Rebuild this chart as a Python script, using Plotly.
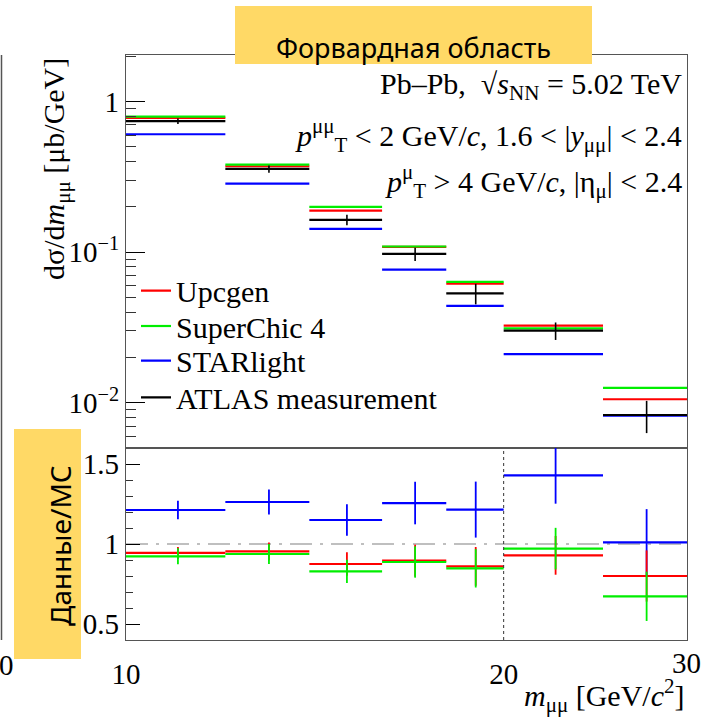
import math
import plotly.graph_objects as go

# ---------------- data ----------------
edges = [10, 12, 14, 16, 18, 20, 24, 28]

atlas = [0.741, 0.357, 0.164, 0.0973, 0.0533, 0.0301, 0.00828]
atlas_err = [0.031, 0.020, 0.013, 0.0098, 0.0083, 0.0040, 0.0020]

upcgen = [0.779, 0.372, 0.1888, 0.1083, 0.0618, 0.0325, 0.01054]
superchic = [0.795, 0.381, 0.1997, 0.1090, 0.0634, 0.0312, 0.01253]
starlight = [0.607, 0.285, 0.1426, 0.0766, 0.0439, 0.0210, 0.0082]

ratio_upcgen = [0.944, 0.954, 0.875, 0.896, 0.860, 0.929, 0.800]
ratio_upcgen_err = [0.037, 0.056, 0.073, 0.100, 0.121, 0.121, 0.160]
ratio_superchic = [0.923, 0.9375, 0.829, 0.8875, 0.848, 0.971, 0.673]
ratio_superchic_err = [0.050, 0.0625, 0.073, 0.098, 0.120, 0.130, 0.154]
ratio_starlight = [1.2125, 1.2625, 1.150, 1.256, 1.215, 1.429, 1.010]
ratio_starlight_err = [0.058, 0.078, 0.098, 0.133, 0.175, 0.177, 0.208]

names = ["Upcgen", "SuperChic 4", "STARlight", "ATLAS measurement"]
colors = ["#ff0000", "#00ee00", "#0000ff", "#000000"]

SERIF = "Liberation Serif"
SANS = "Noto Sans"
W = H = 718


def px(v):
    return v / W


def py(v):
    return 1 - v / H


def steps(vals):
    xs, ys = [], []
    for i, v in enumerate(vals):
        xs += [edges[i], edges[i + 1], None]
        ys += [v, v, None]
    return xs, ys


centers = [(edges[i] + edges[i + 1]) / 2 for i in range(len(edges) - 1)]

fig = go.Figure()

# ---------------- top panel ----------------
legends = ["legend", "legend2", "legend3", "legend4"]
for vals, name, col, lg in zip([upcgen, superchic, starlight, atlas], names, colors, legends):
    xs, ys = steps(vals)
    fig.add_trace(go.Scatter(x=xs, y=ys, mode="lines", name=name, legend=lg,
                             line=dict(color=col, width=2.2), xaxis="x", yaxis="y",
                             hoverinfo="skip"))
fig.add_trace(go.Scatter(x=centers, y=atlas, mode="markers", showlegend=False,
                         marker=dict(size=2, color="black", opacity=0),
                         error_y=dict(type="data", array=atlas_err, width=0,
                                      thickness=1.6, color="black"),
                         xaxis="x", yaxis="y"))

# ---------------- ratio panel ----------------
for vals, err, col in [(ratio_starlight, ratio_starlight_err, colors[2]),
                       (ratio_upcgen, ratio_upcgen_err, colors[0]),
                       (ratio_superchic, ratio_superchic_err, colors[1])]:
    xs, ys = steps(vals)
    fig.add_trace(go.Scatter(x=xs, y=ys, mode="lines", showlegend=False,
                             line=dict(color=col, width=2.2), xaxis="x2", yaxis="y2"))
    fig.add_trace(go.Scatter(x=centers, y=vals, mode="markers", showlegend=False,
                             marker=dict(size=2, color=col, opacity=0),
                             error_y=dict(type="data", array=err, width=0,
                                          thickness=1.8, color=col),
                             xaxis="x2", yaxis="y2"))

frame = dict(showline=True, linecolor="#555555", linewidth=1.3, mirror=True,
             showgrid=False, zeroline=False, automargin=False)
xdom = [px(126), px(687)]
xr = [math.log10(edges[0]), math.log10(edges[-1])]

top_minor = [m * 10 ** d for d in (-3, -2, -1, 0) for m in range(2, 10)
             if 0.005 <= m * 10 ** d <= 2.04]

fig.update_layout(
    width=W, height=H, margin=dict(l=0, r=0, t=0, b=0, autoexpand=False),
    paper_bgcolor="white", plot_bgcolor="white",
    xaxis=dict(type="log", range=xr, domain=xdom, anchor="y", showticklabels=False,
               ticks="", **frame),
    yaxis=dict(type="log", range=[math.log10(0.005), math.log10(2.04)],
               domain=[py(448), py(55)], anchor="x",
               tickvals=[0.01, 0.1, 1], ticktext=["10<sup>−2</sup>", "10<sup>−1</sup>", "1"],
               ticks="inside", ticklen=19, tickwidth=1.3, tickcolor="black",
               minor=dict(tickvals=top_minor, ticks="inside", ticklen=10,
                          tickwidth=1.2, tickcolor="#333333"),
               tickfont=dict(family=SERIF, size=29, color="black"), **frame),
    xaxis2=dict(type="log", range=xr, domain=xdom, anchor="y2",
                tickvals=[10, 20], ticktext=["10", "20"], ticks="",
                ticklabelstandoff=8,
                tickfont=dict(family=SERIF, size=29, color="black"), **frame),
    yaxis2=dict(range=[0.4, 1.6], domain=[py(640), py(448)], anchor="x2",
                tickvals=[0.5, 1, 1.5], ticktext=["0.5", "1", "1.5"],
                ticks="inside", ticklen=14, tickwidth=1.3, tickcolor="black",
                minor=dict(dtick=0.1, tick0=0, ticks="inside", ticklen=7,
                           tickwidth=1.2, tickcolor="#333333"),
                tickfont=dict(family=SERIF, size=29, color="black"), **frame),
)

# legends, one per entry to control spacing
for lg, yc in zip(legends, [290.7, 326, 360.7, 397.3]):
    fig.update_layout({lg: dict(x=px(136), y=py(yc), xanchor="left", yanchor="middle",
                                bgcolor="rgba(0,0,0,0)", itemwidth=30,
                                font=dict(family=SERIF, size=30, color="black"))})

# reference lines in ratio panel
fig.add_shape(type="line", xref="x2 domain", yref="y2", x0=0, x1=1, y0=1, y1=1,
              line=dict(color="#aaaaaa", width=1.5, dash="22px,8px,3px,8px"), layer="below")
fig.add_shape(type="line", xref="x2", yref="y2 domain", x0=20, x1=20, y0=0, y1=1,
              line=dict(color="#333333", width=1, dash="dot"))

# texts
ann = []
ann.append(dict(text="Pb–Pb,  √<i>s</i><sub>NN</sub> = 5.02 TeV", x=px(684), y=py(86),
                xanchor="right", yanchor="middle"))
ann.append(dict(text="<i>p</i><sup>μμ</sup><sub>T</sub> < 2 GeV/<i>c</i>, 1.6 < |<i>y</i><sub>μμ</sub>| < 2.4",
                x=px(684), y=py(135), xanchor="right", yanchor="middle"))
ann.append(dict(text="<i>p</i><sup>μ</sup><sub>T</sub> > 4 GeV/<i>c</i>, |η<sub>μ</sub>| < 2.4",
                x=px(684), y=py(182), xanchor="right", yanchor="middle"))
ann.append(dict(text="dσ/d<i>m</i><sub>μμ</sub> [μb/GeV]", x=px(56), y=py(169),
                xanchor="center", yanchor="middle", textangle=-90,
                font=dict(family=SERIF, size=30, color="black")))
ann.append(dict(text="<i>m</i><sub>μμ</sub> [GeV/<i>c</i><sup>2</sup>]", x=px(687), y=py(695),
                xanchor="right", yanchor="middle"))
ann.append(dict(text="30", x=px(686), y=py(663), xanchor="center", yanchor="middle",
                font=dict(family=SERIF, size=29, color="black")))
ann.append(dict(text="0", x=px(16), y=py(665), xanchor="right", yanchor="middle",
                font=dict(family=SERIF, size=29, color="black")))
for a in ann:
    a.setdefault("font", dict(family=SERIF, size=30, color="black"))
    a.update(xref="paper", yref="paper", showarrow=False)
    fig.add_annotation(**a)

# neighbouring panel frame edge at the left
fig.add_shape(type="line", xref="paper", yref="paper", x0=px(1.5), x1=px(1.5),
              y0=py(55), y1=py(640), line=dict(color="#555555", width=1.5))

# yellow highlight boxes
fig.add_shape(type="rect", xref="paper", yref="paper", x0=px(235), x1=px(592),
              y0=py(64), y1=py(6), fillcolor="#FFD966", line=dict(width=0), layer="above")
fig.add_annotation(text="Форвардная область", x=px(413), y=py(47), xref="paper", yref="paper",
                   showarrow=False, xanchor="center", yanchor="middle",
                   font=dict(family=SANS, size=27, color="black"))
fig.add_shape(type="rect", xref="paper", yref="paper", x0=px(14), x1=px(81),
              y0=py(659), y1=py(429), fillcolor="#FFD966", line=dict(width=0), layer="above")
fig.add_annotation(text="Данные/МС", x=px(60), y=py(546), xref="paper", yref="paper",
                   showarrow=False, xanchor="center", yanchor="middle", textangle=-90,
                   font=dict(family=SANS, size=28, color="black"))

fig.write_html("out.html")
